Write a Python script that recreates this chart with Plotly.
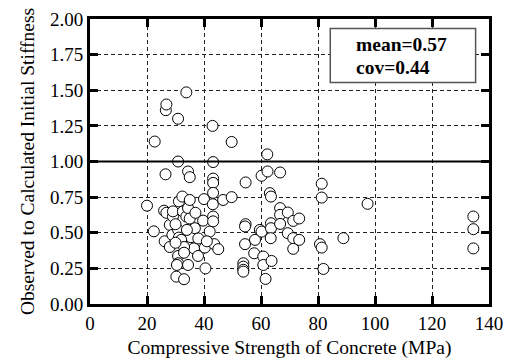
import plotly.graph_objects as go

# Compressive strength (MPa)
strength = [
    20.0, 22.4, 22.7, 26.2, 26.0, 26.8, 26.5, 26.6, 26.8, 28.0, 28.0, 28.9, 29.1, 29.1,
    30.9, 30.9, 30.9, 31.2, 30.9, 30.9, 30.5, 30.3, 31.2, 32.4, 32.6, 33.0, 33.8, 33.8,
    34.4, 35.0, 34.4, 34.4, 35.0, 35.4, 36.5, 36.8, 36.8, 37.9, 39.7, 40.0, 40.3, 40.5,
    42.0, 43.0, 43.2, 43.2, 43.2, 43.2, 43.1, 43.2, 43.2, 43.6, 45.0, 46.7, 49.7, 49.7,
    32.0, 33.0, 30.0, 34.0, 38.0, 41.0, 35.0, 37.0, 30.0, 33.0,
    54.6, 54.6, 54.4, 54.4, 53.8, 53.8, 53.8, 53.8, 57.9, 57.6, 59.6, 60.2, 60.2, 60.8,
    60.8, 61.6, 62.2, 62.3, 63.1, 63.5, 63.5, 63.5, 63.4, 63.7, 66.7, 66.7, 66.7, 66.7,
    69.4, 69.4, 71.3, 71.3, 71.3, 73.4, 73.4, 80.7, 81.3, 81.3, 81.3, 81.9, 88.9, 97.4,
    134.5, 134.5, 134.5,
]
# Observed / calculated initial stiffness
ratio = [
    0.69, 0.51, 1.14, 0.44, 0.655, 0.64, 0.91, 1.36, 1.40, 0.40, 0.555, 0.485, 0.614, 0.65,
    1.30, 1.00, 0.52, 0.466, 0.337, 0.286, 0.274, 0.192, 0.72, 0.754, 0.65, 0.174, 1.485, 0.614,
    0.93, 0.89, 0.673, 0.274, 0.73, 0.469, 0.39, 0.58, 0.532, 0.337, 0.585, 0.736, 0.396, 0.25,
    0.508, 1.25, 0.996, 0.88, 0.85, 0.78, 0.70, 0.614, 0.58, 0.42, 0.385, 0.73, 1.137, 0.75,
    0.45, 0.40, 0.56, 0.52, 0.46, 0.44, 0.60, 0.64, 0.43, 0.36,
    0.853, 0.56, 0.544, 0.42, 0.286, 0.262, 0.24, 0.227, 0.45, 0.356, 0.52, 0.90, 0.508, 0.333,
    0.274, 0.176, 1.05, 0.93, 0.778, 0.754, 0.567, 0.532, 0.462, 0.302, 0.923, 0.673, 0.626, 0.562,
    0.642, 0.497, 0.583, 0.462, 0.387, 0.60, 0.45, 0.42, 0.396, 0.844, 0.747, 0.246, 0.462, 0.703,
    0.614, 0.525, 0.39,
]

x_ticks = [0, 20, 40, 60, 80, 100, 120, 140]
y_ticks = [0, 0.25, 0.5, 0.75, 1.0, 1.25, 1.5, 1.75, 2.0]
stats_lines = ["mean=0.57", "cov=0.44"]

FONT = "Liberation Serif"

fig = go.Figure()
fig.add_trace(go.Scatter(
    x=strength, y=ratio, mode="markers",
    marker=dict(symbol="circle", size=11, color="white",
                line=dict(color="black", width=1)),
    showlegend=False, cliponaxis=False,
))

axis_common = dict(
    showline=True, linecolor="black", linewidth=3, mirror="ticks",
    ticks="inside", ticklen=8, tickwidth=3, tickcolor="black",
    showgrid=True, gridcolor="#222222", gridwidth=1, griddash="4px,3px",
    zeroline=False, tickfont=dict(family=FONT, size=19, color="black"),
    automargin=False,
)

fig.update_xaxes(range=[0, 140], tickvals=x_ticks, ticktext=[str(v) for v in x_ticks],
                 title=dict(text="Compressive Strength of Concrete (MPa)",
                            font=dict(family=FONT, size=19.5, color="black"), standoff=8),
                 **axis_common)
fig.update_yaxes(range=[0, 2.0], tickvals=y_ticks, ticktext=[f"{v:.2f}" for v in y_ticks],
                 title=dict(text="Observed to Calculated Initial Stiffness",
                            font=dict(family=FONT, size=19.5, color="black"), standoff=11),
                 **axis_common)

# solid reference line at 1.0
fig.add_shape(type="line", xref="x", yref="y", x0=0, x1=140, y0=1.0, y1=1.0,
              line=dict(color="black", width=2))
# stats box
fig.add_shape(type="rect", xref="x", yref="y", x0=84.3, x1=135.3, y0=1.554, y1=1.933,
              line=dict(color="#555555", width=1.5), fillcolor="white", layer="above")
for i, t in enumerate(stats_lines):
    fig.add_annotation(xref="x", yref="y", x=92.5, y=[1.822, 1.66][i], text=f"<b>{t}</b>",
                       showarrow=False, xanchor="left", yanchor="middle",
                       font=dict(family=FONT, size=19.5, color="black"))

fig.update_layout(
    width=511, height=359,
    margin=dict(l=90, r=22, t=19, b=55),
    plot_bgcolor="white", paper_bgcolor="white",
)

fig.write_html("out.html")
